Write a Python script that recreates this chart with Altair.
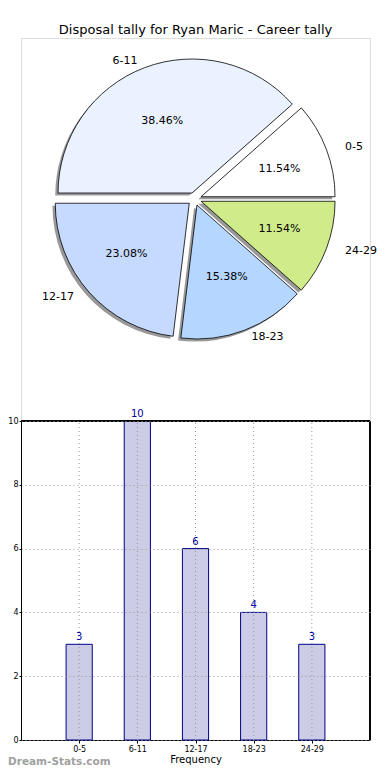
import altair as alt
import pandas as pd

# ---- data ----
cats = ['0-5', '6-11', '12-17', '18-23', '24-29']
counts = [3, 10, 6, 4, 3]
colors = ['#ffffff', '#eaf2ff', '#c6d9ff', '#b5d6ff', '#cfeb8a']
title_text = 'Disposal tally for Ryan Maric - Career tally'
x_title = 'Frequency'
y_ticks = [0, 2, 4, 6, 8, 10]
watermark = 'Dream-Stats.com'

df = pd.DataFrame({'cat': cats, 'count': counts, 'color': colors, 'i': list(range(len(cats)))})

# ---- layout constants (pixels, relative to plot origin) ----
PAD_L = 13
W, H = 362 - PAD_L, 702
CX, CY = 186.5 - PAD_L, 161.0
RX, RY = 140.0, 128.0
R = 134
EXP = 0.05
SH_X, SH_Y = -2.8, 2.6
Y_TOP, Y_BOT = 383, 702

FONT = 'DejaVu Sans'

pie_base = (
    alt.Chart(df)
    .transform_joinaggregate(total='sum(count)')
    .transform_window(cum='sum(count)', sort=[alt.SortField('i')], frame=[None, 0])
    .transform_calculate(a1='2*PI*(datum.cum-datum.count)/datum.total')
    .transform_calculate(a2='2*PI*datum.cum/datum.total')
    .transform_calculate(mid='(datum.a1+datum.a2)/2')
    .transform_calculate(t1='PI/2 - datum.a2')
    .transform_calculate(t2='PI/2 - datum.a1')
    .transform_calculate(cx=f'{CX} + {EXP}*{RX}*cos(datum.mid)')
    .transform_calculate(cy=f'{CY} - {EXP}*{RY}*sin(datum.mid)')
    .transform_calculate(sx=f'datum.cx + ({SH_X})')
    .transform_calculate(sy=f'datum.cy + ({SH_Y})')
    .transform_calculate(lx=f'{CX} + {1.1 + EXP}*{RX}*cos(datum.mid)')
    .transform_calculate(ly=f'{CY} - {1.1 + EXP}*{RY}*sin(datum.mid)')
    .transform_calculate(px=f'{CX} + {0.6 + EXP}*{RX}*cos(datum.mid)')
    .transform_calculate(py=f'{CY} - {0.6 + EXP}*{RY}*sin(datum.mid)')
    .transform_calculate(pct="format(100*datum.count/datum.total, '.2f') + '%'")
)

shadows = pie_base.mark_arc(radius=R, fill='#333333', fillOpacity=0.5).encode(
    x=alt.X('sx:Q', scale=None),
    y=alt.Y('sy:Q', scale=None),
    theta=alt.Theta('t1:Q', scale=None, stack=None),
    theta2='t2:Q',
)

wedges = pie_base.mark_arc(radius=R, stroke='black', strokeWidth=0.8).encode(
    x=alt.X('cx:Q', scale=None),
    y=alt.Y('cy:Q', scale=None),
    theta=alt.Theta('t1:Q', scale=None, stack=None),
    theta2='t2:Q',
    fill=alt.Fill('color:N', scale=None),
)

pct_labels = pie_base.mark_text(fontSize=11, font=FONT, color='black', baseline='middle').encode(
    x=alt.X('px:Q', scale=None),
    y=alt.Y('py:Q', scale=None),
    text='pct:N',
)

cat_right = pie_base.transform_filter('cos(datum.mid) >= 0').mark_text(
    fontSize=11, font=FONT, color='black', align='left', baseline='middle'
).encode(x=alt.X('lx:Q', scale=None), y=alt.Y('ly:Q', scale=None), text='cat:N')

cat_left = pie_base.transform_filter('cos(datum.mid) < 0').mark_text(
    fontSize=11, font=FONT, color='black', align='right', baseline='middle'
).encode(x=alt.X('lx:Q', scale=None), y=alt.Y('ly:Q', scale=None), text='cat:N')

# ---- bar chart ----
label_expr = '[' + ','.join(f"'{c}'" for c in cats) + '][datum.value]'
xscale = alt.Scale(domain=[-1, len(cats)], nice=False, zero=False, padding=0)
yscale = alt.Scale(domain=[0, 10], range=[Y_BOT, Y_TOP], nice=False, padding=0)

xaxis = alt.Axis(
    values=list(range(len(cats))), labelExpr=label_expr, title=x_title,
    grid=False, labelFontSize=8, titleFontSize=10, titleFontWeight='normal',
    tickSize=3, labelPadding=2, titlePadding=1, domainColor='black', tickColor='black',
    labelColor='black', titleColor='black', labelFont=FONT, titleFont=FONT,
)
yaxis = alt.Axis(
    values=y_ticks, format='d', title=None, grid=True, gridDash=[1, 3], gridColor='#999999',
    labelFontSize=8, tickSize=2, labelPadding=1, domainColor='black', tickColor='black',
    labelColor='black', labelFont=FONT, zindex=1,
)

bar_base = alt.Chart(df)

bars = bar_base.transform_calculate(
    x1='datum.i - 0.225', x2='datum.i + 0.225'
).mark_bar(fill='#cccce6', stroke='#00008b', strokeWidth=1, orient='vertical').encode(
    x=alt.X('x1:Q', scale=xscale, axis=xaxis),
    x2='x2:Q',
    y=alt.Y('count:Q', scale=yscale, axis=yaxis),
    y2=alt.datum(0),
)

xgrid = bar_base.mark_rule(strokeDash=[1, 3], color='#999999', strokeWidth=1).encode(
    x='i:Q', y=alt.datum(0), y2=alt.datum(10)
)

values = bar_base.mark_text(dy=-7, fontSize=10, font=FONT, color='#0000a0').encode(
    x='i:Q', y='count:Q', text='count:Q'
)

top_spine = bar_base.mark_rule(color='black', strokeWidth=1).encode(
    x=alt.datum(-1), x2=alt.datum(len(cats)), y=alt.datum(10)
)
right_spine = bar_base.mark_rule(color='black', strokeWidth=1).encode(
    x=alt.datum(len(cats)), y=alt.datum(0), y2=alt.datum(10)
)

wm = alt.Chart(pd.DataFrame({'t': [watermark]})).mark_text(
    fontSize=10.5, fontWeight='bold', font=FONT, color='#a0a0a0', align='left', baseline='middle'
).encode(x=alt.value(-PAD_L), y=alt.value(724), text='t:N')

chart = alt.layer(
    shadows, wedges, pct_labels, cat_right, cat_left,
    bars, xgrid, values, top_spine, right_spine, wm,
).properties(
    width=W, height=H,
    title=alt.TitleParams(title_text, fontSize=13, font=FONT, fontWeight='normal',
                          anchor='middle', frame='group', offset=1, color='black'),
    autosize=alt.AutoSizeParams(type='none'),
    padding={'left': PAD_L, 'top': 30, 'right': 12, 'bottom': 28},
).configure_view(stroke=None).configure(font=FONT)

chart.save('out.html', embed_options={'renderer': 'svg', 'actions': False})
